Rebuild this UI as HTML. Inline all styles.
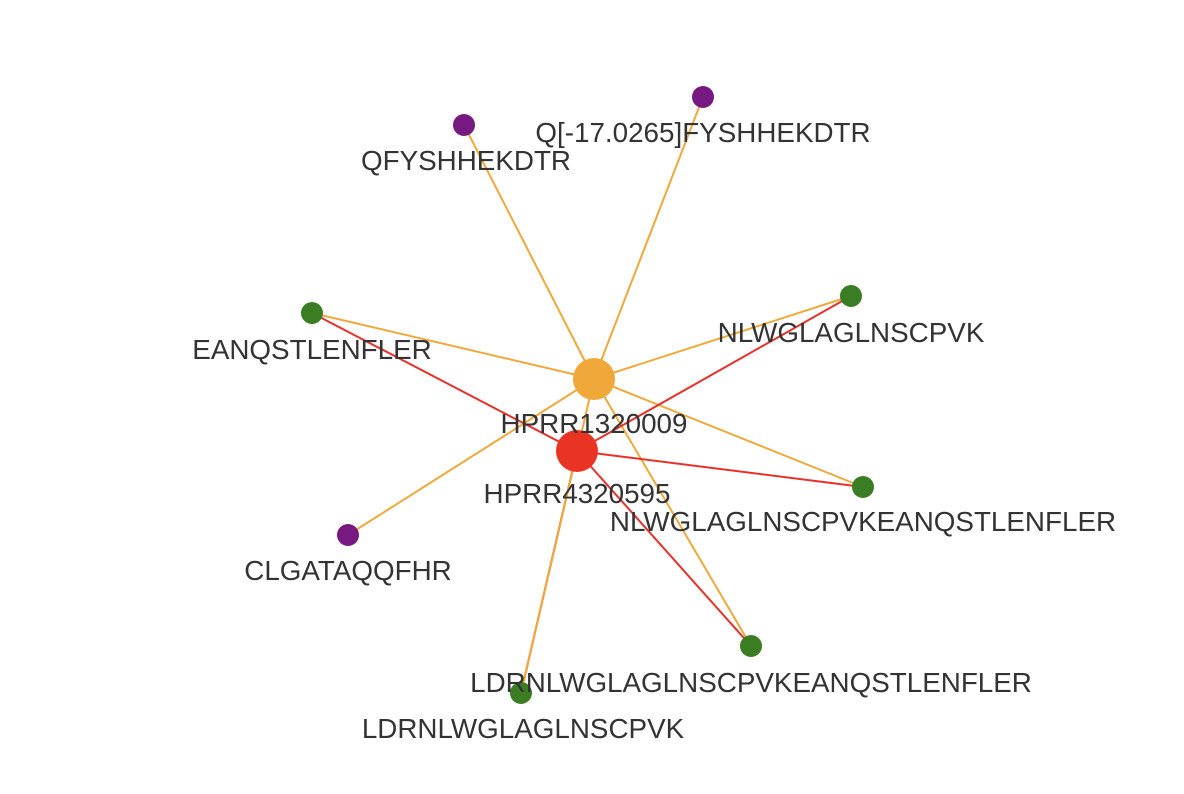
<!DOCTYPE html>
<html><head><meta charset="utf-8"><style>
html,body{margin:0;padding:0;background:#fff;}
svg{display:block;}
text{font-family:"Liberation Sans",Arial,sans-serif;font-size:27.8px;fill:#333;text-anchor:middle;}
</style></head><body>
<svg width="1184" height="794" viewBox="0 0 1184 794">
<g stroke="#f0a83a" stroke-width="2" fill="none">
<line x1="594" y1="379" x2="464" y2="125"/>
<line x1="594" y1="379" x2="703" y2="97"/>
<line x1="594" y1="379" x2="312" y2="313"/>
<line x1="594" y1="379" x2="851" y2="296"/>
<line x1="594" y1="379" x2="863" y2="487"/>
<line x1="594" y1="379" x2="348" y2="535"/>
<line x1="594" y1="379" x2="751" y2="646"/>
</g>
<g stroke="#e8302a" stroke-width="2" fill="none">
<line x1="577" y1="451" x2="312" y2="313"/>
<line x1="577" y1="451" x2="851" y2="296"/>
<line x1="577" y1="451" x2="863" y2="487"/>
<line x1="577" y1="451" x2="751" y2="646"/>
<line x1="577" y1="451" x2="521" y2="693"/>
</g>
<line x1="594" y1="379" x2="521" y2="693" stroke="#f0a83a" stroke-width="2"/>
<circle cx="594" cy="379" r="21" fill="#f0a83a"/>
<circle cx="577" cy="451" r="21" fill="#e93323"/>
<g fill="#761a82">
<circle cx="464" cy="125" r="11"/>
<circle cx="703" cy="97" r="11"/>
<circle cx="348" cy="535" r="11"/>
</g>
<g fill="#3a7d22">
<circle cx="312" cy="313" r="11"/>
<circle cx="851" cy="296" r="11"/>
<circle cx="863" cy="487" r="11"/>
<circle cx="751" cy="646" r="11"/>
<circle cx="521" cy="693" r="11"/>
</g>
<text x="466" y="170">QFYSHHEKDTR</text>
<text x="703" y="142">Q[-17.0265]FYSHHEKDTR</text>
<text x="312" y="359">EANQSTLENFLER</text>
<text x="851" y="342">NLWGLAGLNSCPVK</text>
<text x="594" y="433">HPRR1320009</text>
<text x="577" y="503">HPRR4320595</text>
<text x="863" y="531">NLWGLAGLNSCPVKEANQSTLENFLER</text>
<text x="348" y="580">CLGATAQQFHR</text>
<text x="751" y="692">LDRNLWGLAGLNSCPVKEANQSTLENFLER</text>
<text x="523" y="738">LDRNLWGLAGLNSCPVK</text>
</svg>
</body></html>
